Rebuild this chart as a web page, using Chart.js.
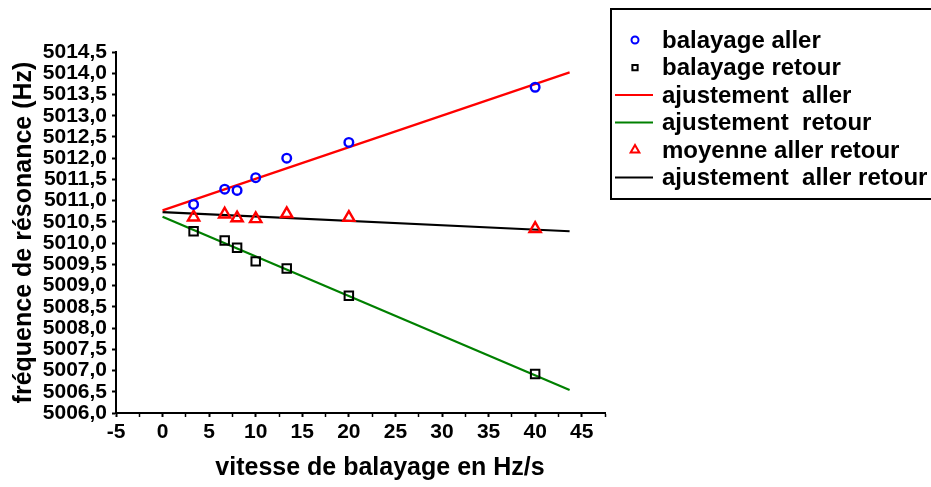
<!DOCTYPE html>
<html><head><meta charset="utf-8">
<script src="https://cdn.jsdelivr.net/npm/chart.js@4/dist/chart.umd.min.js"></script>
<style>html,body{margin:0;padding:0;background:#fff;overflow:hidden}#wrap{width:931px;height:487px;position:relative}</style>
</head><body><div id="wrap"><canvas id="c" width="931" height="487"></canvas></div>
<script>
// ---- data ----
const sweepRates   = [3.33, 6.67, 8, 10, 13.33, 20, 40];
const forwardFreq  = [5010.91, 5011.27, 5011.24, 5011.54, 5012.00, 5012.37, 5013.67];
const backwardFreq = [5010.28, 5010.06, 5009.89, 5009.57, 5009.40, 5008.76, 5006.92];
const meanFreq     = [5010.61, 5010.68, 5010.59, 5010.57, 5010.69, 5010.60, 5010.34];
const fitRange     = [0, 43.7];
const fitForward   = [5010.77, 5014.02];
const fitBackward  = [5010.62, 5006.54];
const fitMean      = [5010.73, 5010.28];
const seriesLabels = ['balayage aller', 'balayage retour', 'ajustement  aller', 'ajustement  retour', 'moyenne aller retour', 'ajustement  aller retour'];
const xTickValues  = [-5, 0, 5, 10, 15, 20, 25, 30, 35, 40, 45];
const xMinorTicks  = [-2.5, 2.5, 7.5, 12.5, 17.5, 22.5, 27.5, 32.5, 37.5, 42.5, 47.5];
const yTickValues  = [5006, 5006.5, 5007, 5007.5, 5008, 5008.5, 5009, 5009.5, 5010, 5010.5, 5011, 5011.5, 5012, 5012.5, 5013, 5013.5, 5014, 5014.5];
const xTitle = 'vitesse de balayage en Hz/s';
const yTitle = 'fréquence de résonance (Hz)';

const FONT = '"Liberation Sans", Arial, sans-serif';
const pts = (xs, ys) => xs.map((x, i) => ({x: x, y: ys[i]}));

const datasets = [
  {label: seriesLabels[0], data: pts(sweepRates, forwardFreq), showLine: false, pointStyle: 'circle', pointRadius: 4.3, borderColor: '#0000ff', backgroundColor: 'rgba(0,0,0,0)', pointBorderWidth: 2.4, order: 1},
  {label: seriesLabels[1], data: pts(sweepRates, backwardFreq), showLine: false, pointStyle: 'rect', pointRadius: 6, borderColor: '#000000', backgroundColor: 'rgba(0,0,0,0)', pointBorderWidth: 2, order: 1},
  {label: seriesLabels[2], data: pts(fitRange, fitForward), showLine: true, pointRadius: 0, borderColor: '#ff0000', borderWidth: 2.2, order: 2},
  {label: seriesLabels[3], data: pts(fitRange, fitBackward), showLine: true, pointRadius: 0, borderColor: '#008000', borderWidth: 2.2, order: 2},
  {label: seriesLabels[4], data: pts(sweepRates, meanFreq), showLine: false, pointStyle: 'triangle', pointRadius: 6.5, borderColor: '#ff0000', backgroundColor: 'rgba(0,0,0,0)', pointBorderWidth: 2.4, order: 1},
  {label: seriesLabels[5], data: pts(fitRange, fitMean), showLine: true, pointRadius: 0, borderColor: '#000000', borderWidth: 2.2, order: 2}
];

function drawMarker(ctx, style, x, y, r, color) {
  ctx.save();
  ctx.strokeStyle = color; ctx.lineWidth = 2;
  ctx.beginPath();
  if (style === 'circle') { ctx.arc(x, y, r, 0, Math.PI * 2); }
  else if (style === 'rect') { ctx.rect(x - r * 0.75, y - r * 0.75, r * 1.5, r * 1.5); }
  else if (style === 'triangle') {
    ctx.moveTo(x, y - r); ctx.lineTo(x + r * 0.87, y + r * 0.5); ctx.lineTo(x - r * 0.87, y + r * 0.5); ctx.closePath();
  }
  ctx.stroke();
  ctx.restore();
}

const boxLegend = {
  id: 'boxLegend',
  afterDraw(chart) {
    const ctx = chart.ctx;
    ctx.save();
    ctx.lineWidth = 2; ctx.strokeStyle = '#000';
    ctx.strokeRect(611, 9, 400, 190);
    const rowY = [40, 67.5, 95, 122.5, 150, 177.5];
    ctx.font = 'bold 24px ' + FONT;
    ctx.fillStyle = '#000'; ctx.textBaseline = 'middle'; ctx.textAlign = 'left';
    chart.data.datasets.forEach((ds, i) => {
      const y = rowY[i];
      if (ds.showLine) {
        ctx.save(); ctx.strokeStyle = ds.borderColor; ctx.lineWidth = 2;
        ctx.beginPath(); ctx.moveTo(615, y); ctx.lineTo(653, y); ctx.stroke(); ctx.restore();
      } else {
        drawMarker(ctx, ds.pointStyle, 635, y, ds.pointStyle === 'triangle' ? 5 : 3.5, ds.borderColor);
      }
      ctx.fillText(ds.label, 662, y + 1);
    });
    // x axis title
    ctx.font = 'bold 25px ' + FONT;
    ctx.textAlign = 'center';
    ctx.fillText(xTitle, 380, 468);
    ctx.restore();
  }
};

const isMajorX = v => xTickValues.indexOf(v) !== -1;

new Chart(document.getElementById('c'), {
  type: 'scatter',
  data: {datasets: datasets},
  plugins: [boxLegend],
  options: {
    responsive: false,
    animation: false,
    layout: {padding: {left: 0, top: 52, right: 326, bottom: 0}},
    plugins: {legend: {display: false}, tooltip: {enabled: false}},
    scales: {
      x: {
        type: 'linear', min: -5, max: 47.5,
        afterFit(s) { s.height = 74; },
        afterBuildTicks(s) {
          s.ticks = xTickValues.concat(xMinorTicks).sort((a, b) => a - b).map(v => ({value: v}));
        },
        border: {display: true, color: '#000', width: 2},
        grid: {display: true, drawOnChartArea: false, drawTicks: true, tickLength: 4, color: '#000',
               tickWidth: c => (c.tick && isMajorX(c.tick.value)) ? 2 : 1.5},
        ticks: {color: '#000', padding: 3, autoSkip: false, maxRotation: 0, font: {family: FONT, size: 21, weight: 'bold'},
                callback: v => isMajorX(v) ? String(v) : ''}
      },
      y: {
        type: 'linear', min: 5006, max: 5014.5,
        afterFit(s) { s.width = 116; },
        afterBuildTicks(s) { s.ticks = yTickValues.map(v => ({value: v})); },
        border: {display: true, color: '#000', width: 2},
        grid: {display: true, drawOnChartArea: false, drawTicks: true, tickLength: 4, color: '#000', tickWidth: 2},
        ticks: {color: '#000', padding: 5, autoSkip: false, font: {family: FONT, size: 21, weight: 'bold'}, callback: v => v.toFixed(1).replace('.', ',')},
        title: {display: true, text: yTitle, color: '#000', padding: {top: 9, bottom: 0}, font: {family: FONT, size: 25, weight: 'bold'}}
      }
    }
  }
});
</script></body></html>
